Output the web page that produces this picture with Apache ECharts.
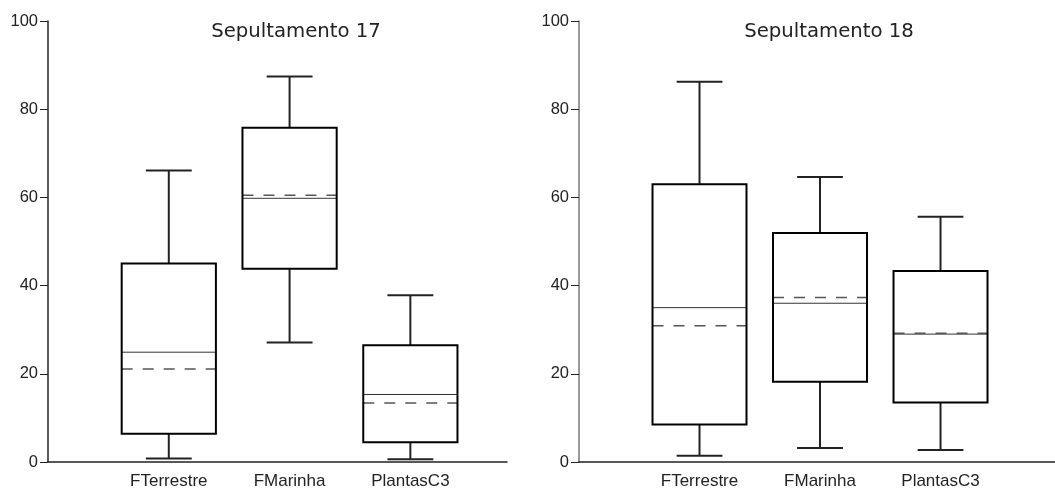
<!DOCTYPE html>
<html>
<head>
<meta charset="utf-8">
<script src="https://cdn.jsdelivr.net/npm/echarts@6/dist/echarts.min.js"></script>
<style>
html,body{margin:0;padding:0;background:#fff;}
#chart{width:1055px;height:490px;}
</style>
</head>
<body>
<div id="chart"></div>
<script>
// ---- data ----
var categories = ['FTerrestre', 'FMarinha', 'PlantasC3'];
var yTicks = [0, 20, 40, 60, 80, 100];
var titles = ['Sepultamento 17', 'Sepultamento 18'];

// Sepultamento 17
var s17Min    = [0.8, 27.1, 0.6];
var s17Q1     = [6.4, 43.8, 4.5];
var s17Median = [24.9, 59.8, 15.3];
var s17Q3     = [45.0, 75.8, 26.5];
var s17Max    = [66.1, 87.4, 37.8];
var s17Mean   = [21.1, 60.5, 13.4];

// Sepultamento 18
var s18Min    = [1.4, 3.2, 2.7];
var s18Q1     = [8.5, 18.2, 13.5];
var s18Median = [35.0, 36.0, 29.0];
var s18Q3     = [63.0, 51.9, 43.3];
var s18Max    = [86.2, 64.6, 55.6];
var s18Mean   = [30.9, 37.3, 29.2];

function build(mins, q1, med, q3, maxs, means) {
  return categories.map(function (c, i) {
    return [i + 1, mins[i], q1[i], med[i], q3[i], maxs[i], means[i]];
  });
}

var BOX_W = 0.78;   // in category units
var CAP_W = 0.38;

function renderItem(params, api) {
  var x = api.value(0);
  var pMin = api.coord([x, api.value(1)]);
  var pQ1 = api.coord([x, api.value(2)]);
  var pMed = api.coord([x, api.value(3)]);
  var pQ3 = api.coord([x, api.value(4)]);
  var pMax = api.coord([x, api.value(5)]);
  var pMean = api.coord([x, api.value(6)]);
  var cx = pMin[0];
  var hw = api.size([BOX_W, 0])[0] / 2;
  var cw = api.size([CAP_W, 0])[0] / 2;
  var wStyle = { stroke: '#222', lineWidth: 2 };
  return {
    type: 'group',
    children: [
      { type: 'line', shape: { x1: cx, y1: pQ3[1], x2: cx, y2: pMax[1] }, style: wStyle },
      { type: 'line', shape: { x1: cx - cw, y1: pMax[1], x2: cx + cw, y2: pMax[1] }, style: wStyle },
      { type: 'line', shape: { x1: cx, y1: pQ1[1], x2: cx, y2: pMin[1] }, style: wStyle },
      { type: 'line', shape: { x1: cx - cw, y1: pMin[1], x2: cx + cw, y2: pMin[1] }, style: wStyle },
      { type: 'line', shape: { x1: cx - hw, y1: pMed[1], x2: cx + hw, y2: pMed[1] }, style: { stroke: '#333', lineWidth: 1 } },
      { type: 'line', shape: { x1: cx - hw, y1: pMean[1], x2: cx + hw, y2: pMean[1] }, style: { stroke: '#555', lineWidth: 1.5, lineDash: [11, 10] } },
      { type: 'rect', shape: { x: cx - hw, y: pQ3[1], width: hw * 2, height: pQ1[1] - pQ3[1] }, style: { fill: 'none', stroke: '#000', lineWidth: 2 } }
    ]
  };
}

function xAxis(idx, max) {
  return {
    type: 'value', gridIndex: idx, min: 0, max: max, interval: 1,
    axisLine: { show: true, lineStyle: { color: '#222', width: 1.5 } },
    axisTick: { show: false },
    splitLine: { show: false },
    axisLabel: {
      margin: 11, fontSize: 17, color: '#222', fontFamily: 'Liberation Sans, Arial, sans-serif',
      showMinLabel: false, showMaxLabel: false,
      formatter: function (v) { return (Number.isInteger(v) && categories[v - 1]) ? categories[v - 1] : ''; }
    }
  };
}
function yAxis(idx, color) {
  return {
    type: 'value', gridIndex: idx, min: yTicks[0], max: yTicks[yTicks.length - 1], interval: yTicks[1] - yTicks[0],
    axisLine: { show: true, lineStyle: { color: color, width: 1.5 } },
    axisTick: { show: true, length: 8, lineStyle: { color: '#222', width: 1 } },
    splitLine: { show: false },
    axisLabel: { margin: 10, fontSize: 16.5, color: '#222', fontFamily: 'Liberation Sans, Arial, sans-serif' }
  };
}

var chart = echarts.init(document.getElementById('chart'), null, { renderer: 'canvas' });
chart.setOption({
  animation: false,
  backgroundColor: '#fff',
  title: [
    { text: titles[0], left: 291, top: 17, textAlign: 'center', textStyle: { fontFamily: 'DejaVu Sans', fontSize: 19.7, fontWeight: 'normal', color: '#222' } },
    { text: titles[1], left: 824, top: 17, textAlign: 'center', textStyle: { fontFamily: 'DejaVu Sans', fontSize: 19.7, fontWeight: 'normal', color: '#222' } }
  ],
  grid: [
    { left: 48, top: 21, width: 459, height: 441, containLabel: false, outerBoundsMode: 'none' },
    { left: 579, top: 21, width: 476, height: 441, containLabel: false, outerBoundsMode: 'none' }
  ],
  xAxis: [xAxis(0, 3.8), xAxis(1, 3.95)],
  yAxis: [yAxis(0, '#222'), yAxis(1, '#777')],
  series: [
    { type: 'custom', xAxisIndex: 0, yAxisIndex: 0, renderItem: renderItem, clip: false,
      encode: { x: 0, y: [1, 2, 3, 4, 5, 6] },
      data: build(s17Min, s17Q1, s17Median, s17Q3, s17Max, s17Mean) },
    { type: 'custom', xAxisIndex: 1, yAxisIndex: 1, renderItem: renderItem, clip: false,
      encode: { x: 0, y: [1, 2, 3, 4, 5, 6] },
      data: build(s18Min, s18Q1, s18Median, s18Q3, s18Max, s18Mean) }
  ]
});
</script>
</body>
</html>
